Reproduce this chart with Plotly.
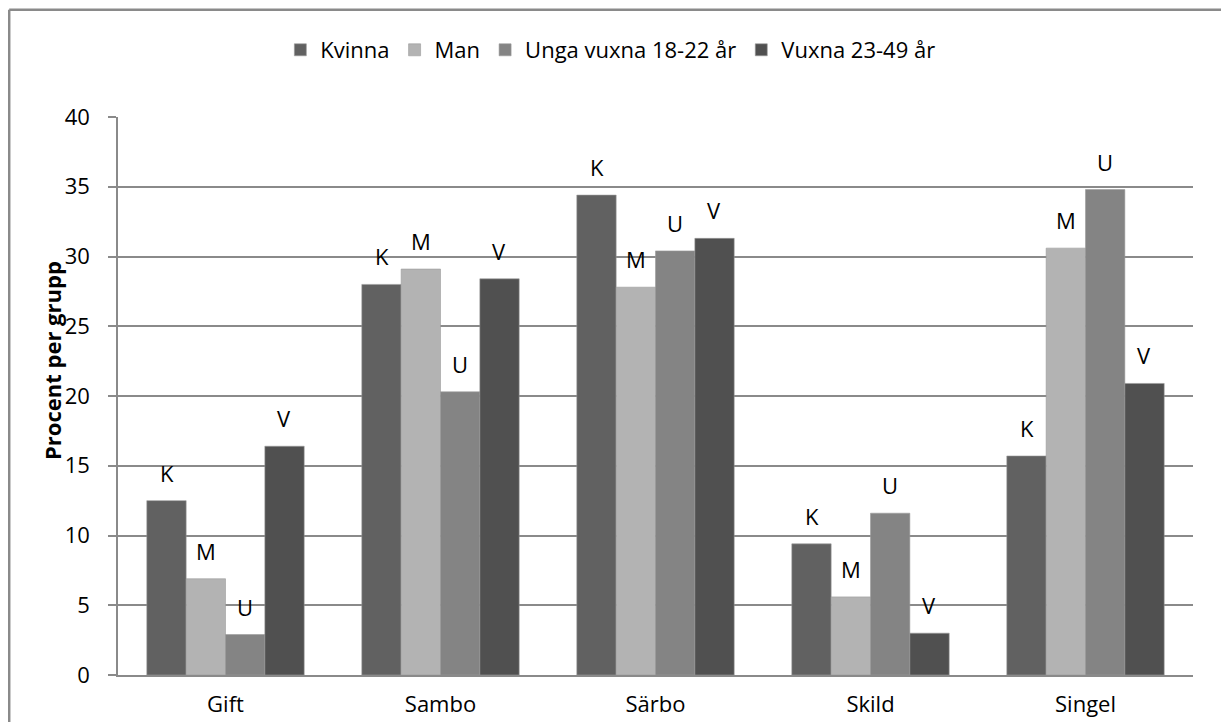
import plotly.graph_objects as go

categories = ["Gift", "Sambo", "Särbo", "Skild", "Singel"]
series_names = ["Kvinna", "Man", "Unga vuxna 18-22 år", "Vuxna 23-49 år"]
series_letters = ["K", "M", "U", "V"]
kvinna = [12.5, 28.0, 34.4, 9.4, 15.7]
man = [6.9, 29.1, 27.8, 5.6, 30.6]
unga = [2.9, 20.3, 30.4, 11.6, 34.8]
vuxna = [16.4, 28.4, 31.3, 3.0, 20.9]
y_ticks = [0, 5, 10, 15, 20, 25, 30, 35, 40]
y_title = "Procent per grupp"

series_values = [kvinna, man, unga, vuxna]
colors = ["#616161", "#b3b3b3", "#848484", "#505050"]

FONT = "Open Sans"
FS = 22

# page body has an 8px margin -> figure is 8px smaller than the window
W, H = 1221, 714
ML, MR, MT, MB = 110, 36, 109, 47
PW, PH = W - ML - MR, H - MT - MB

fig = go.Figure()
for name, vals, col in zip(series_names, series_values, colors):
    fig.add_trace(go.Bar(
        name=name, x=categories, y=vals,
        marker=dict(color=col, line=dict(color="#9a9a9a", width=0.6)),
    ))

# Letter labels above bars
bar_px = 39.3
for i, (letter, vals) in enumerate(zip(series_letters, series_values)):
    for cat, v in zip(categories, vals):
        fig.add_annotation(
            x=cat, y=v, text=letter, showarrow=False,
            xshift=(i - 1.5) * bar_px, yshift=11, yanchor="bottom",
            font=dict(family=FONT, size=FS, color="#000000"),
        )

# Y axis title (placed slightly above the plot centre, as in the reference)
fig.add_annotation(
    xref="paper", yref="paper", x=(44 - ML) / PW, y=(PH + MT - 353) / PH,
    text="<b>" + y_title + "</b>", textangle=-90, showarrow=False,
    xanchor="center", yanchor="middle",
    font=dict(family=FONT, size=FS, color="#000000"),
)

# Outer frame (top and left edges visible)
x_left = -(ML - 1.2) / PW
y_top = (PH + MT - 1.8) / PH
fig.add_shape(type="line", xref="paper", yref="paper",
              x0=x_left, x1=1.2, y0=y_top, y1=y_top,
              line=dict(color="#8a8a8a", width=2.5), layer="below")
fig.add_shape(type="line", xref="paper", yref="paper",
              x0=x_left, x1=x_left, y0=-0.3, y1=y_top,
              line=dict(color="#8a8a8a", width=2.5), layer="below")

fig.update_layout(
    width=W, height=H,
    barmode="group", bargap=0.268, bargroupgap=0,
    paper_bgcolor="white", plot_bgcolor="white",
    margin=dict(l=ML, r=MR, t=MT, b=MB),
    font=dict(family=FONT, size=FS, color="#000000"),
    legend=dict(orientation="h", x=0.458, xanchor="center",
                y=(PH + MT - 42) / PH, yanchor="middle",
                font=dict(family=FONT, size=FS), itemwidth=30, traceorder="normal"),
    showlegend=True,
)
fig.update_yaxes(
    range=[0, 40], tickvals=y_ticks, ticks="outside", ticklen=8, tickcolor="#8a8a8a",
    tickwidth=1.5, ticklabelstandoff=14,
    showgrid=True, gridcolor="#8a8a8a", gridwidth=1.5,
    showline=True, linecolor="#8a8a8a", linewidth=1.5,
    zeroline=False, automargin=False,
    tickfont=dict(family=FONT, size=FS),
)
fig.update_xaxes(
    showline=True, linecolor="#8a8a8a", linewidth=2,
    ticks="", ticklabelstandoff=9, automargin=False,
    tickfont=dict(family=FONT, size=FS),
)

fig.write_html("out.html")
